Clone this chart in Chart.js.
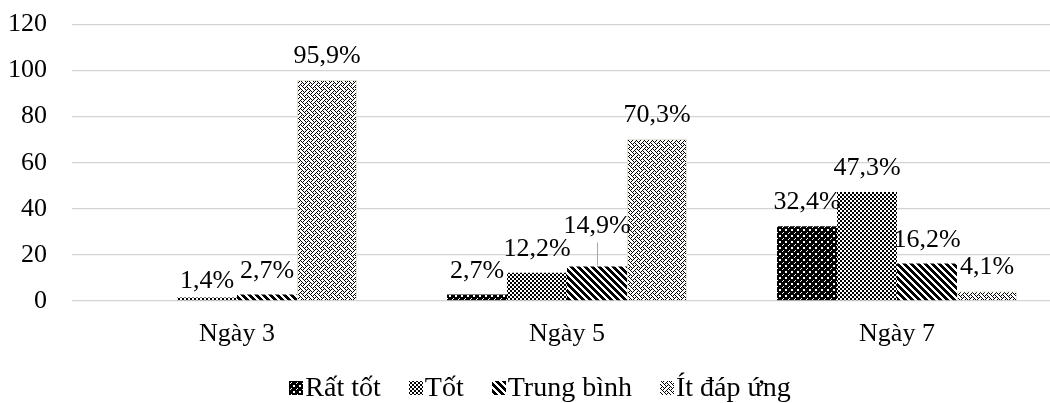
<!DOCTYPE html>
<html lang="vi">

<head>
    <meta charset="UTF-8">
    <title>Đánh giá theo ngày</title>
    <script src="https://cdn.jsdelivr.net/npm/chart.js"></script>
    <style>
        html, body { margin: 0; padding: 0; background: #fff; overflow: hidden; }
        /* canvas is a bit wider than the window: the last group is cut at the right like the original */
        #chart { display: block; margin-top: -16px; }
    </style>
</head>

<body>
    <canvas id="chart" width="1062" height="419"></canvas>
    <script>
        // Chart data
        const categories = ['Ngày 3', 'Ngày 5', 'Ngày 7'];
        const seriesNames = ['Rất tốt', 'Tốt', 'Trung bình', 'Ít đáp ứng'];
        const ratTot = [null, 2.7, 32.4];
        const tot = [1.4, 12.2, 47.3];
        const trungBinh = [2.7, 14.9, 16.2];
        const itDapUng = [95.9, 70.3, 4.1];
        const yTicks = [0, 20, 40, 60, 80, 100, 120];

        const FONT = '"Liberation Serif", "Times New Roman", serif';
        const canvas = document.getElementById('chart');
        const ctx = canvas.getContext('2d');

        // 8x8 "weave" bitmap for the last series
        const WEAVE = [
            '10001000',
            '01010100',
            '00100010',
            '01000101',
            '10001000',
            '00010101',
            '00100010',
            '01010001'
        ];

        // small black/white tiles, like the office fill patterns
        function makePattern(kind) {
            const size = { solidGrid: 6, checker: 4, stripes: 7, weave: 8 }[kind];
            const tile = document.createElement('canvas');
            tile.width = size;
            tile.height = size;
            const t = tile.getContext('2d');
            t.fillStyle = '#fff';
            t.fillRect(0, 0, size, size);
            t.fillStyle = '#000';
            for (let y = 0; y < size; y++) {
                for (let x = 0; x < size; x++) {
                    let black = false;
                    if (kind === 'solidGrid') {
                        // black crosses, white specks between them
                        const corner = (x === 0 || x === 5) && (y === 0 || y === 5);
                        const centre = x >= 2 && x <= 3 && y >= 2 && y <= 3 && (x + y) % 2 === 1;
                        black = !corner && !centre;
                    } else if (kind === 'checker') {
                        black = (Math.floor(x / 2) + Math.floor(y / 2)) % 2 === 0;
                    } else if (kind === 'stripes') {
                        black = ((x - y + 70) % 7) < 4;
                    } else if (kind === 'weave') {
                        black = WEAVE[y][x] === '1';
                    }
                    if (black) t.fillRect(x, y, 1, 1);
                }
            }
            return ctx.createPattern(tile, 'repeat');
        }

        const fills = [makePattern('solidGrid'), makePattern('checker'), makePattern('stripes'), makePattern('weave')];
        const values = [ratTot, tot, trungBinh, itDapUng];

        const datasets = seriesNames.map((name, i) => ({
            label: name,
            data: values[i],
            backgroundColor: fills[i],
            borderColor: i === 3 ? '#e6e2d6' : 'rgba(0,0,0,0)',
            borderWidth: i === 3 ? 1 : 0,
            categoryPercentage: 0.727,
            barPercentage: 1.0
        }));

        // value labels above the bars (Excel style, with one moved label + leader line)
        const barLabels = {
            id: 'barLabels',
            afterDatasetsDraw(chart, args, opts) {
                const c = chart.ctx;
                c.save();
                c.font = '26px ' + FONT;
                c.fillStyle = '#000';
                c.textAlign = 'center';
                c.textBaseline = 'alphabetic';
                chart.data.datasets.forEach((ds, di) => {
                    const meta = chart.getDatasetMeta(di);
                    meta.data.forEach((bar, i) => {
                        const v = ds.data[i];
                        if (v === null || v === undefined) return;
                        const lift = opts.lifts[di + '-' + i] || 0;
                        const baseY = bar.y - 17 - lift;
                        c.fillText(v.toFixed(1).replace('.', ',') + '%', bar.x, baseY);
                        if (lift > 0) {
                            c.strokeStyle = '#a6a6a6';
                            c.lineWidth = 1;
                            c.beginPath();
                            c.moveTo(Math.round(bar.x) + 0.5, baseY + 10);
                            c.lineTo(Math.round(bar.x) + 0.5, bar.y - 1);
                            c.stroke();
                        }
                    });
                });
                c.restore();
            }
        };

        // legend drawn by hand: marker sits right against its text
        const patternLegend = {
            id: 'patternLegend',
            afterDraw(chart, args, opts) {
                const c = chart.ctx;
                c.save();
                c.font = '28px ' + FONT;
                c.textBaseline = 'middle';
                c.textAlign = 'left';
                const box = 14, gapText = 2, gapItem = 28;
                const widths = chart.data.datasets.map(ds => box + gapText + c.measureText(ds.label).width);
                const total = widths.reduce((a, b) => a + b, 0) + gapItem * (widths.length - 1);
                let x = opts.centerX - total / 2;
                const y = opts.y;
                chart.data.datasets.forEach((ds, i) => {
                    c.fillStyle = ds.backgroundColor;
                    c.fillRect(Math.round(x), Math.round(y - box / 2), box, box);
                    c.fillStyle = '#000';
                    c.fillText(ds.label, x + box + gapText, y + 1);
                    x += widths[i] + gapItem;
                });
                c.restore();
            }
        };

        new Chart(ctx, {
            type: 'bar',
            data: { labels: categories, datasets: datasets },
            options: {
                responsive: false,
                animation: false,
                layout: { padding: { top: 8, bottom: 35, left: 0, right: 0 } },
                scales: {
                    x: {
                        grid: { display: false, drawTicks: false },
                        border: { display: false },
                        ticks: { color: '#000', font: { family: FONT, size: 26 }, padding: 18 }
                    },
                    y: {
                        min: 0,
                        max: 120,
                        afterFit: (scale) => { scale.width = 72; },
                        afterBuildTicks: (scale) => { scale.ticks = yTicks.map(v => ({ value: v })); },
                        grid: { color: '#d4d4d4', lineWidth: 1.3, drawTicks: false },
                        border: { display: false },
                        ticks: { color: '#000', font: { family: FONT, size: 26 }, padding: 25 }
                    }
                },
                plugins: {
                    legend: { display: false },
                    tooltip: { enabled: false },
                    barLabels: { lifts: { '2-1': 17, '1-0': -7 } },
                    patternLegend: { centerX: 540, y: 404 }
                }
            },
            plugins: [barLabels, patternLegend]
        });
    </script>
</body>

</html>
